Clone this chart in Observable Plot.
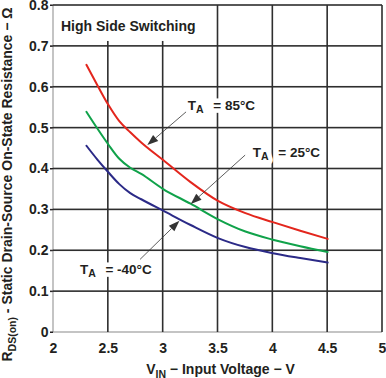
<!DOCTYPE html>
<html><head><meta charset="utf-8">
<script src="https://cdn.jsdelivr.net/npm/d3@7"></script>
<script src="https://cdn.jsdelivr.net/npm/@observablehq/plot@0.6"></script>
<style>body{margin:0;background:#fff} #pad{position:absolute;right:0;bottom:0;width:1px;height:1px;background:#fff;font-size:1px;color:#fff}</style>
</head><body><div id="chart"></div><div id="pad">.</div>
<script>
// Data
const vin  = [2.3, 2.4, 2.5, 2.6, 2.7, 2.8, 3.0, 3.25, 3.5, 3.75, 4.0, 4.25, 4.5];
const r85  = [0.655, 0.605, 0.557, 0.517, 0.490, 0.465, 0.422, 0.368, 0.322, 0.292, 0.270, 0.249, 0.229];
const r25  = [0.540, 0.499, 0.460, 0.425, 0.403, 0.388, 0.351, 0.315, 0.277, 0.247, 0.227, 0.211, 0.197];
const rm40 = [0.457, 0.423, 0.392, 0.363, 0.341, 0.326, 0.298, 0.263, 0.231, 0.209, 0.194, 0.182, 0.171];
const seriesNames  = ["85°C", "25°C", "-40°C"];
const seriesValues = [r85, r25, rm40];
const seriesColors = ["#e3261d", "#10a24a", "#2b2a87"];
const xTicks = [2, 2.5, 3, 3.5, 4, 4.5, 5];
const yTicks = [0, 0.1, 0.2, 0.3, 0.4, 0.5, 0.6, 0.7, 0.8];
// annotations (data coordinates)
const labelX  = [3.229, 3.822, 2.246];
const labelY  = [0.544, 0.429, 0.142];
const arrowX1 = [3.2135, 3.752, 2.794];
const arrowY1 = [0.5386, 0.4328, 0.1777];
const arrowX2 = [2.860, 3.256, 3.153];
const arrowY2 = [0.4572, 0.313, 0.272];
const titleText = "High Side Switching";
const titlePos = {x: 2.073, y: 0.736};
const titleBoxTop = 0.712;   // gridlines under the title box stop here
const titleBoxRight = 3.2;

const INK = "#231f20";
const GRID = "#2e2e2e";
const xMin = xTicks[0], xMax = xTicks[xTicks.length - 1];
const yMin = yTicks[0], yMax = yTicks[yTicks.length - 1];
const table = seriesNames.flatMap((s, i) => vin.map((v, j) => ({series: s, vin: v, r: seriesValues[i][j]})));
const labels = seriesNames.map((s, i) => ({temp: s, x: labelX[i], y: labelY[i]}));
const arrows = seriesNames.map((s, i) => ({x1: arrowX1[i], y1: arrowY1[i], x2: arrowX2[i], y2: arrowY2[i]}));

const W = 386, H = 378, ML = 53, MR = 4, MT = 5, MB = 46;
const plot = Plot.plot({
  width: W, height: H,
  marginLeft: ML, marginRight: MR, marginTop: MT, marginBottom: MB,
  style: {fontFamily: "'Liberation Sans', Arial, sans-serif", fontSize: "14px", fontWeight: "bold", color: INK, background: "white"},
  x: {domain: [xMin, xMax], ticks: xTicks, tickFormat: d => String(d), tickSize: 0, tickPadding: 11, label: null},
  y: {domain: [yMin, yMax], ticks: yTicks, tickFormat: d => String(d), tickSize: 3, tickPadding: 2, label: null},
  marks: [
    // frame (left / bottom, thin grey) drawn as thin rects
    Plot.rect([xMin], {x1: d => d, x2: d => d, y1: () => yMin, y2: () => yMax, insetLeft: -0.5, insetRight: -0.5, fill: "#8a8a8a"}),
    Plot.rect([yMin], {x1: () => xMin, x2: () => xMax, y1: d => d, y2: d => d, insetTop: -0.5, insetBottom: -0.5, fill: "#8a8a8a"}),
    // grid
    Plot.rect(xTicks.slice(1), {x1: d => d, x2: d => d, y1: () => yMin, y2: d => d <= titleBoxRight ? titleBoxTop : yMax, insetLeft: -0.8, insetRight: -0.8, fill: GRID}),
    Plot.rect(yTicks.slice(1), {x1: () => xMin, x2: () => xMax, y1: d => d, y2: d => d, insetTop: -0.8, insetBottom: -0.8, fill: GRID}),
    ...seriesNames.map((s, i) => Plot.line(table.filter(d => d.series === s), {x: "vin", y: "r", stroke: seriesColors[i], strokeWidth: 2, curve: "monotone-x"}))
  ]
});
document.getElementById("chart").appendChild(plot);

// Annotations placed through Plot's own scales
const sx = v => plot.scale("x").apply(v);
const sy = v => plot.scale("y").apply(v);
const svg = d3.select(plot);

// small y tick marks left of the frame
const gt = svg.append("g").attr("fill", INK);
yTicks.forEach(v => gt.append("rect").attr("x", sx(xMin) - 3).attr("y", sy(v) - 0.5).attr("width", 3).attr("height", 1));

const ga = svg.append("g");
arrows.forEach(d => {
  const x1 = sx(d.x1), y1 = sy(d.y1), x2 = sx(d.x2), y2 = sy(d.y2);
  const ang = Math.atan2(y2 - y1, x2 - x1);
  const L = 11, HW = 4;
  const bx = x2 - L * Math.cos(ang), by = y2 - L * Math.sin(ang);
  ga.append("path").attr("d", `M${x1},${y1}L${bx},${by}`).attr("stroke", "#333").attr("stroke-width", 0.8).attr("fill", "none");
  const px = -Math.sin(ang) * HW, py = Math.cos(ang) * HW;
  ga.append("path").attr("d", `M${x2},${y2}L${bx + px},${by + py}L${bx - px},${by - py}Z`).attr("fill", "#333");
});

function drawLabel(g, x, y, temp, halo) {
  const t = g.append("text").attr("x", x).attr("y", y).attr("text-anchor", "start")
    .attr("font-size", 13.5).attr("font-weight", "bold");
  if (halo) t.attr("fill", "white").attr("stroke", "white").attr("stroke-width", 9).attr("stroke-linejoin", "round");
  else t.attr("fill", INK);
  t.append("tspan").text("T");
  t.append("tspan").attr("dy", 3.5).attr("font-size", 10.5).text("A");
  t.append("tspan").attr("x", x + 25.5).attr("dy", -3.5).text("= " + temp);
}
const gl = svg.append("g");
labels.forEach(d => drawLabel(gl, sx(d.x), sy(d.y), d.temp, true));
labels.forEach(d => drawLabel(gl, sx(d.x), sy(d.y), d.temp, false));
gl.append("text").attr("x", sx(titlePos.x)).attr("y", sy(titlePos.y)).attr("text-anchor", "start")
  .attr("font-size", 14).attr("font-weight", "bold").attr("fill", INK).text(titleText);

const gx = svg.append("g").attr("font-weight", "bold").attr("fill", INK);
const cx = (ML + W - MR) / 2 + 3;
const xl = gx.append("text").attr("x", cx).attr("y", H - 4).attr("text-anchor", "middle").attr("font-size", 14);
xl.append("tspan").text("V");
xl.append("tspan").attr("dy", 3.5).attr("font-size", 10.5).text("IN");
xl.append("tspan").attr("dy", -3.5).text(" − Input Voltage − V");
const cy = (MT + H - MB) / 2 + 16;
const yl = gx.append("text").attr("transform", `translate(12,${cy}) rotate(-90)`).attr("text-anchor", "middle").attr("font-size", 14);
yl.append("tspan").text("R");
yl.append("tspan").attr("dy", 3.5).attr("font-size", 10.5).text("DS(on)");
yl.append("tspan").attr("dy", -3.5).text(" - Static Drain-Source On-State Resistance − Ω");
</script>
</body></html>
